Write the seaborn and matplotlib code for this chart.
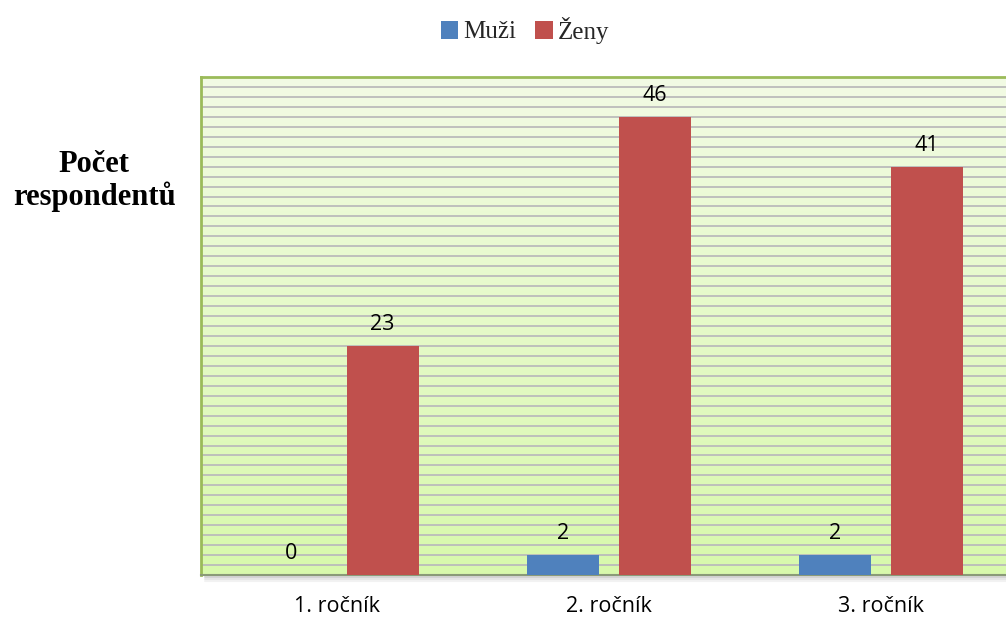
import numpy as np
import pandas as pd
import matplotlib
matplotlib.use("Agg")
import matplotlib.pyplot as plt
import seaborn as sns
from matplotlib.colors import LinearSegmentedColormap
from matplotlib.patches import Patch

categories = ["1. ročník", "2. ročník", "3. ročník"]
series_names = ["Muži", "Ženy"]
muzi = [0, 2, 2]
zeny = [23, 46, 41]
ylabel = "Počet\nrespondentů"

df = pd.DataFrame({
    "rocnik": categories * 2,
    "pohlavi": [series_names[0]] * 3 + [series_names[1]] * 3,
    "pocet": muzi + zeny,
})

sns.set_theme(style="white")
plt.rcParams['font.family'] = ['DejaVu Sans']

fig = plt.figure(figsize=(10.06, 6.21), dpi=100)
W, H = 1006, 621
left, right, top, bottom = 201, 1017, 77, 575
ax = fig.add_axes([left / W, 1 - bottom / H, (right - left) / W, (bottom - top) / H])

# gradient background
cmap = LinearSegmentedColormap.from_list("g", ["#D8F9AC", "#F2FBE4"])
grad = np.linspace(0, 1, 256).reshape(-1, 1)
ax.imshow(grad, aspect="auto", cmap=cmap, extent=[0, 1, 0, 1], transform=ax.transAxes,
          origin="lower", zorder=0)

palette = {"Muži": "#4F81BD", "Ženy": "#C0504D"}
sns.barplot(data=df, x="rocnik", y="pocet", hue="pohlavi", palette=palette,
            width=0.67, gap=0.21, saturation=1, ax=ax, zorder=3, legend=False,
            linewidth=0, edgecolor="none")

ax.set_xlim(-0.5, 2.5)
ax.set_ylim(0, 50)
ax.set_yticks(np.arange(1, 50, 1))
ax.yaxis.grid(True, color="#BBBBBB", linewidth=1.3, zorder=1)
ax.set_axisbelow(True)
ax.tick_params(axis="y", left=False, labelleft=False)
ax.tick_params(axis="x", bottom=False, length=0, labelsize=15.5, pad=15, labelcolor="#000000")
for lbl in ax.get_xticklabels():
    lbl.set_family(["Open Sans", "DejaVu Sans"])
ax.set_xlabel("")
ax.set_ylabel("")

for sp in ["left", "top"]:
    ax.spines[sp].set_color("#9BBB59")
    ax.spines[sp].set_linewidth(2)
ax.spines["right"].set_visible(False)
ax.spines["bottom"].set_color("#8A9A78")
ax.spines["bottom"].set_linewidth(1.5)

# shadow under plot area
for i, a in enumerate([0.35, 0.2, 0.1]):
    ax.plot([0.005, 1], [-0.004 - i * 0.004] * 2, transform=ax.transAxes,
            color="#888888", alpha=a, linewidth=1.5, clip_on=False)

for cont in ax.containers:
    for bar in cont:
        h = bar.get_height()
        ax.annotate(f"{int(h)}", (bar.get_x() + bar.get_width() / 2, h),
                    xytext=(0, 8), textcoords="offset points", ha="center", va="bottom",
                    fontsize=15.5, family=["Open Sans", "DejaVu Sans"], color="#000000", zorder=5)

fig.text(94 / W, 1 - 181 / H, ylabel, ha="center", va="center", fontsize=22,
         fontweight="bold", family=["Liberation Serif", "DejaVu Serif"], linespacing=1.1,
         color="#000000")

handles = [Patch(facecolor=palette[s], edgecolor="none") for s in series_names]
fig.legend(handles, series_names, loc="center", bbox_to_anchor=(525 / W, 1 - 30 / H), ncol=2,
           frameon=False, handlelength=0.7, handleheight=0.7, handletextpad=0.2,
           columnspacing=0.75, prop={"family": ["Liberation Serif", "DejaVu Serif"], "size": 18})

fig.savefig("out.png", dpi=100)
